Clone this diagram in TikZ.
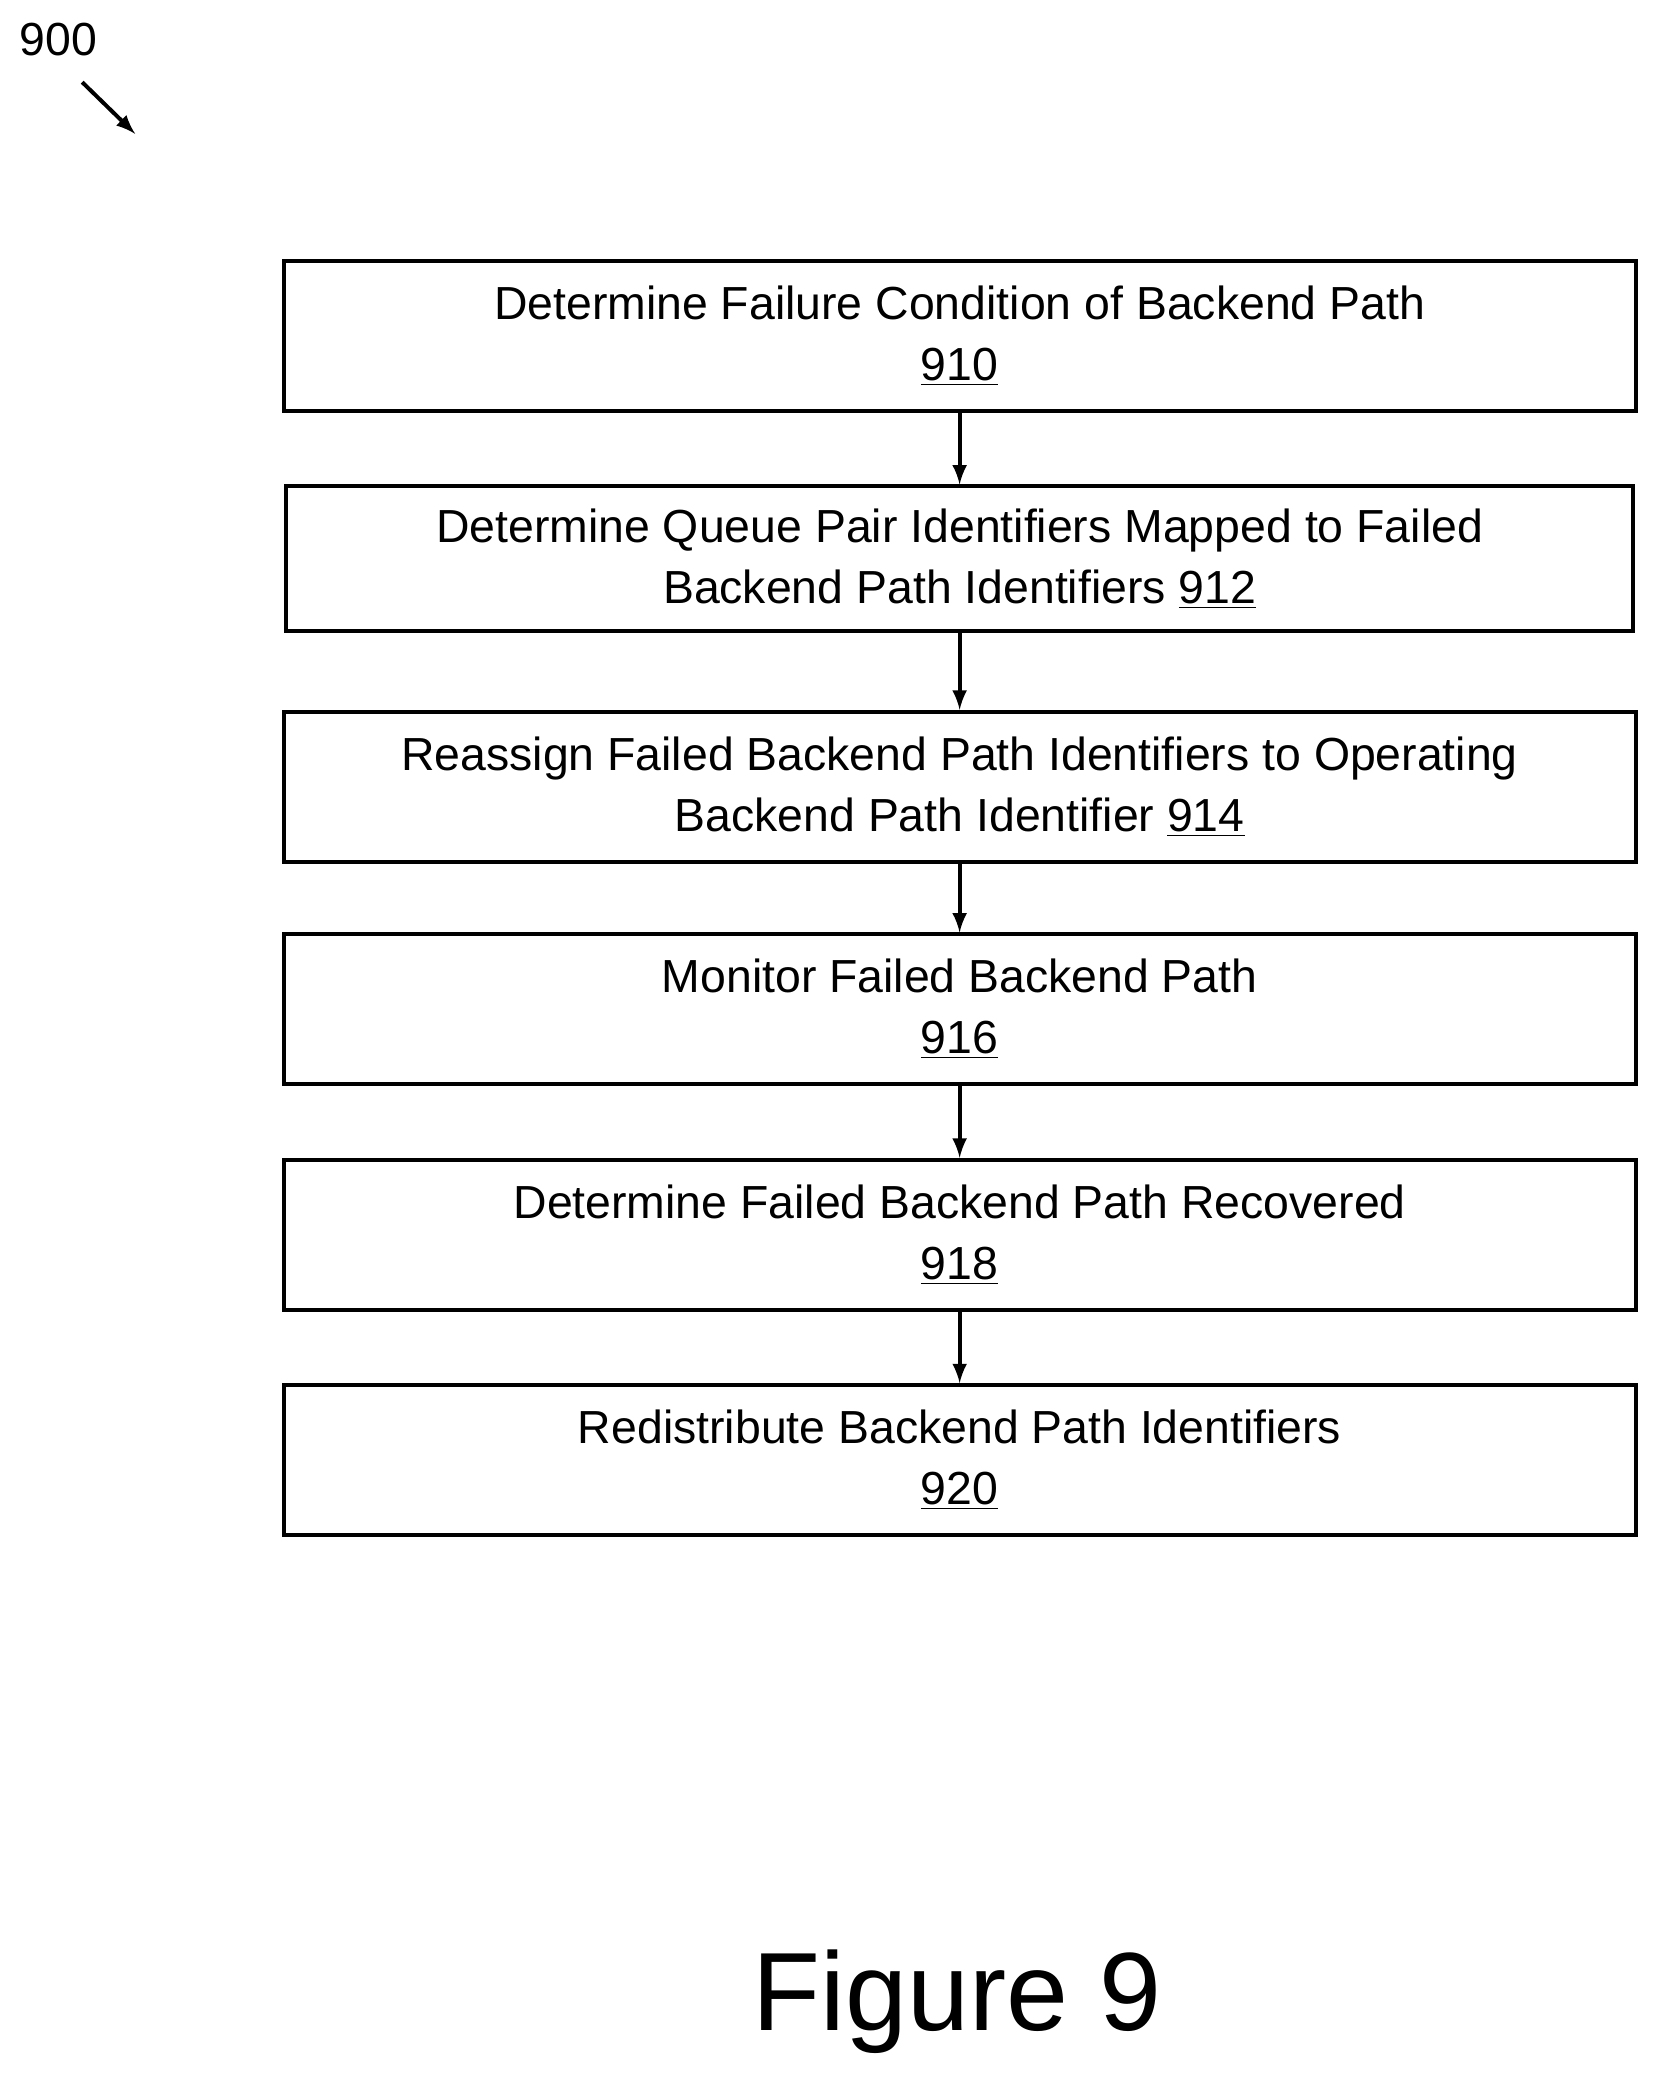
\documentclass[tikz,border=0pt]{standalone}
\usepackage{fontspec}
\setmainfont{Liberation Sans}
\tikzset{every picture/.style={line width=1.2pt}}
\tikzset{stepbox/.style={draw,line width=1.5pt,minimum width=510pt,minimum height=56.5pt,align=center,font=\fontsize{17.5}{23}\selectfont,inner sep=0pt},
flow/.style={-latex,line width=1.5pt}}
\begin{document}
\begin{tikzpicture}[x=0.5pt,y=0.5pt,yscale=-1,xscale=1]
			\useasboundingbox (0,0) rectangle (1250,1567);
			% Text Node
			\node (lbl) at (44,30) {\fontsize{17.5}{20}\selectfont 900};
			\coordinate (tip) at (102,101);
			\coordinate (tail) at (62,62);
			\draw [flow] (tail) -- (tip);
			% Steps
			\node [stepbox] (s910) at (724,253.5) {Determine Failure Condition of Backend Path\\\underline{910}};
			\node [stepbox,minimum width=508pt,minimum height=54.5pt] (s912) at (724,421.5) {Determine Queue Pair Identifiers Mapped to Failed\\Backend Path Identifiers \underline{912}};
			\node [stepbox] (s914) at (724,593.5) {Reassign Failed Backend Path Identifiers to Operating\\Backend Path Identifier \underline{914}};
			\node [stepbox] (s916) at (724,761.5) {Monitor Failed Backend Path\\\underline{916}};
			\node [stepbox] (s918) at (724,931.5) {Determine Failed Backend Path Recovered\\\underline{918}};
			\node [stepbox] (s920) at (724,1101.5) {Redistribute Backend Path Identifiers\\\underline{920}};
			% Arrows
			\draw [flow] (s910) -- (s912);
			\draw [flow] (s912) -- (s914);
			\draw [flow] (s914) -- (s916);
			\draw [flow] (s916) -- (s918);
			\draw [flow] (s918) -- (s920);
			% Caption
			\node (fig) at (722,1510) {\fontsize{42}{48}\selectfont Figure 9};
\end{tikzpicture}
\end{document}
